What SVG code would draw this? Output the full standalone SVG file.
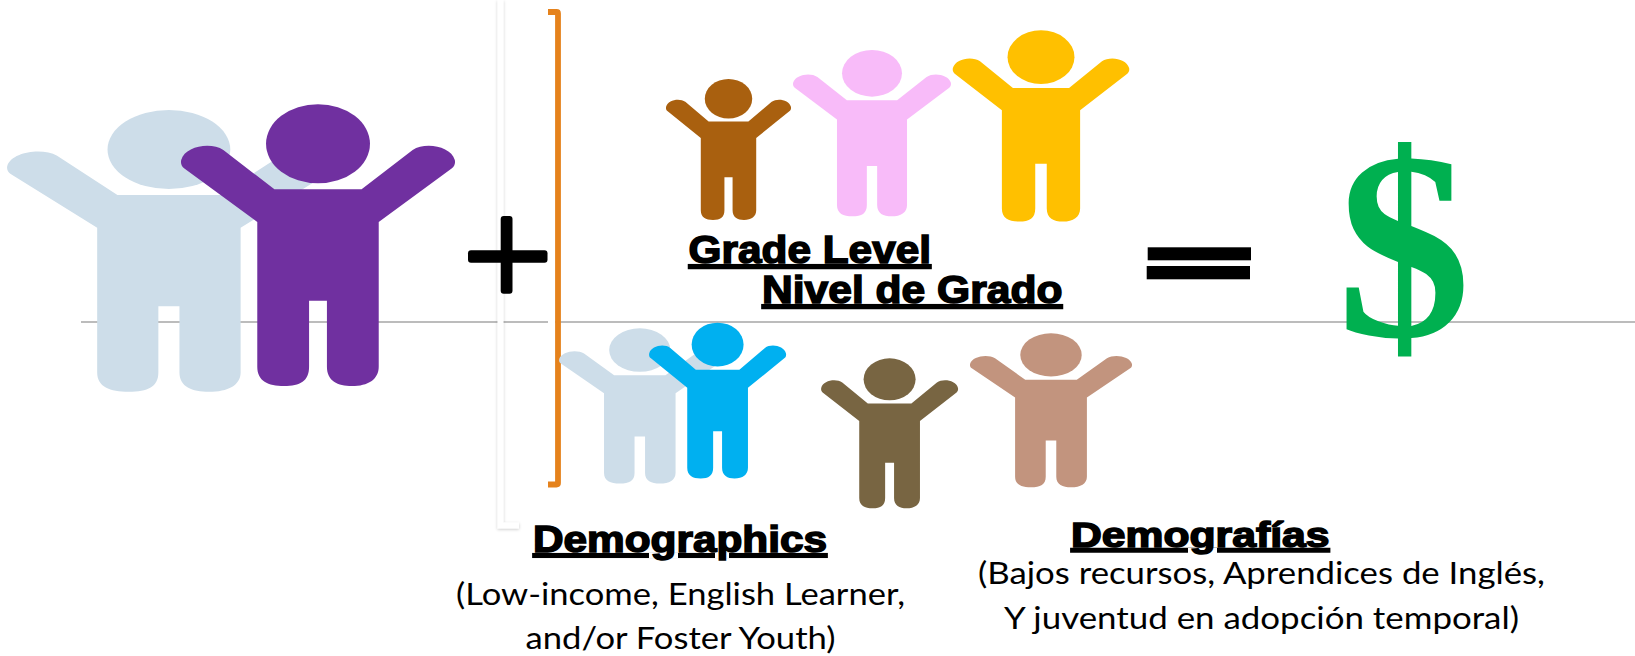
<svg xmlns="http://www.w3.org/2000/svg" width="1635" height="656" viewBox="0 0 1635 656">
<style>
.head{font-family:"Liberation Sans",Arial,sans-serif;font-weight:700;fill:#000;stroke:#000;stroke-width:1.5px;text-decoration:underline}
.body{font-family:Lato,"Liberation Sans",sans-serif;font-size:31px;fill:#000;stroke:none}
</style>
<defs>
<g id="person">
<ellipse cx="0" cy="118.5" rx="145.5" ry="118.5"/>
<path d="M-122 255L-265 137C-300 112-372 125-383 167C-385 178-382 186-375 192L-170 353V787C-170 830-140 845-95 845C-50 845-25 830-25 787V589H25V787C25 830 55 845 95 845C140 845 170 825 170 787V353L375 192C382 186 385 178 383 167C372 125 300 112 265 137L122 255Z"/>
</g>
<filter id="soft" x="-50%" y="-5%" width="200%" height="110%"><feDropShadow dx="0" dy="1" stdDeviation="1.5" flood-color="#000" flood-opacity="0.22"/></filter>
</defs>
<rect width="1635" height="656" fill="#fff"/>
<g id="connectors"><line x1="81" y1="322" x2="1635" y2="322" stroke="#a6a6a6" stroke-width="1.6"/></g>
<g id="bracket-white"><path d="M500.500 0V525.500H519" fill="none" stroke="#fff" stroke-width="6" filter="url(#soft)"/></g>
<g id="bracket-orange">
<rect x="548" y="14" width="7" height="470" fill="#fff"/>
<path d="M548 12H556.500Q558 12 558 13.500V483Q558 484.500 556.500 484.500H548" fill="none" stroke="#e5821c" stroke-width="5.800"/>
</g>
<g id="plus"><rect x="500.700" y="216" width="11.800" height="77.700" rx="3" fill="#000"/><rect x="468" y="250.300" width="79.500" height="12.400" rx="3" fill="#000"/></g>
<g id="person-light-large"><use href="#person" fill="#cddde9" transform="translate(168.900 110) scale(.4219 .3334)"/></g>
<g id="person-purple"><use href="#person" fill="#7030a0" transform="translate(318 104.300) scale(.3572 .3334)"/></g>
<g id="person-brown"><use href="#person" fill="#a9600f" transform="translate(728.500 79) scale(.163 .1669)"/></g>
<g id="person-pink"><use href="#person" fill="#f8bbf9" transform="translate(872 50) scale(.206 .1968)"/></g>
<g id="person-yellow"><use href="#person" fill="#ffc000" transform="translate(1041 30.300) scale(.2301 .2264)"/></g>
<g id="person-light-small"><use href="#person" fill="#cddde9" transform="translate(639.800 328.300) scale(.2104 .1838)"/></g>
<g id="person-cyan"><use href="#person" fill="#00b0f0" transform="translate(717.600 322.700) scale(.1786 .1843)"/></g>
<g id="person-olive"><use href="#person" fill="#786542" transform="translate(889.600 358.300) scale(.1786 .1775)"/></g>
<g id="person-tan"><use href="#person" fill="#c2947e" transform="translate(1051 333.300) scale(.2112 .1822)"/></g>
<g id="equals"><rect x="1147.700" y="247.300" width="103.300" height="13" fill="#000"/><rect x="1146.700" y="266" width="103.300" height="13.300" fill="#000"/></g>
<g id="dollar"><text x="1404" y="336" text-anchor="middle" font-family="Liberation Serif,Times New Roman,serif" font-weight="700" font-size="268" fill="#00b050">$</text></g>
<g id="label-grade"><text class="head" x="688.600" y="262.700" font-size="38" textLength="242.400" lengthAdjust="spacingAndGlyphs">Grade Level</text></g>
<g id="label-nivel"><text class="head" x="762" y="302.700" font-size="38" textLength="300.400" lengthAdjust="spacingAndGlyphs">Nivel de Grado</text></g>
<g id="label-demographics"><text class="head" x="533" y="551.700" font-size="36" textLength="294" lengthAdjust="spacingAndGlyphs">Demographics</text>
<text class="body" x="456" y="605" textLength="449" lengthAdjust="spacingAndGlyphs">(Low-income, English Learner,</text>
<text class="body" x="525.500" y="649.300" textLength="310" lengthAdjust="spacingAndGlyphs">and/or Foster Youth)</text></g>
<g id="label-demografias"><text class="head" x="1071" y="546.500" font-size="35" textLength="258.500" lengthAdjust="spacingAndGlyphs">Demografías</text>
<text class="body" x="978" y="584" textLength="567" lengthAdjust="spacingAndGlyphs">(Bajos recursos, Aprendices de Inglés,</text>
<text class="body" x="1004" y="629" textLength="515" lengthAdjust="spacingAndGlyphs">Y juventud en adopción temporal)</text></g>
</svg>
